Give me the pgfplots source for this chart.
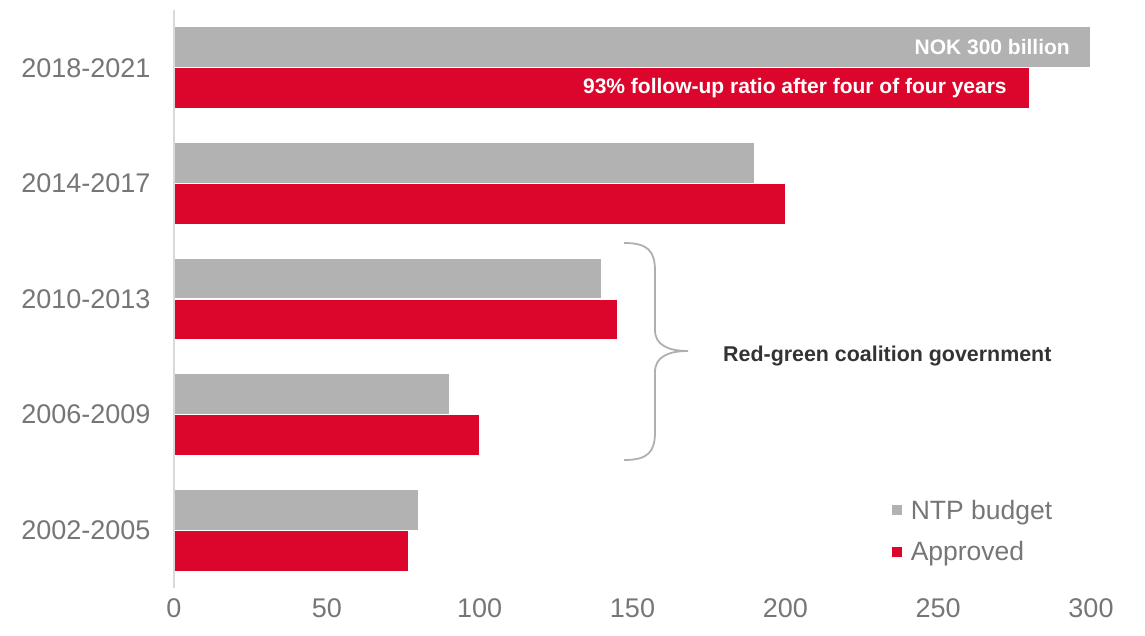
\documentclass[border=0pt]{standalone}
\usepackage{fontspec}
\setmainfont{Liberation Sans}
\usepackage{pgfplots}
\pgfplotsset{compat=1.18}
\definecolor{barGray}{RGB}{178,178,178}
\definecolor{barRed}{RGB}{220,6,44}
\definecolor{txtGray}{RGB}{118,118,118}
\definecolor{darkTxt}{RGB}{51,51,51}
\definecolor{braceGray}{RGB}{175,175,175}
\begin{document}
\begin{tikzpicture}
\useasboundingbox (0,0) rectangle (1145pt,635pt);
\begin{axis}[
  at={(174pt,47pt)}, anchor=south west,
  scale only axis, width=917pt, height=578pt,
  xbar, xmin=0, xmax=300, ymin=-0.5, ymax=4.5,
  bar width=0.355,
  axis line style={draw=none},
  major tick length=0pt,
  xtick={0,50,...,300},
  ytick={0,1,2,3,4},
  yticklabels={2002-2005,2006-2009,2010-2013,2014-2017,2018-2021},
  /pgf/number format/assume math mode=true,
  tick label style={font=\fontsize{27}{31}\selectfont, text=txtGray},
  yticklabel style={xshift=-20pt},
  xticklabel style={yshift=-7pt},
  legend style={at={(0.7825,0.156)}, anchor=north west, draw=none, fill=none,
    font=\fontsize{26.5}{30}\selectfont, text=txtGray, row sep=17pt, column sep=7pt,
    inner sep=0pt, cells={anchor=west}},
  legend image code/.code={\fill[#1,draw=none] (0pt,-5pt) rectangle (10pt,5pt);},
  clip=false,
]
\addplot[fill=barGray, draw=white, line width=1.2pt, bar shift=0.177] coordinates {
  (80,0) (90,1) (140,2) (190,3) (300,4)};
\addplot[fill=barRed, draw=white, line width=1.2pt, bar shift=-0.177] coordinates {
  (76.6,0) (100,1) (145,2) (200,3) (280,4)};
\legend{NTP budget, Approved}
\draw[gray!30, line width=1.5pt] (axis cs:0,-0.5) -- (axis cs:0,4.5);
\node[anchor=east, text=white, font=\bfseries\fontsize{21}{24}\selectfont, inner sep=0pt]
  at ([xshift=-21pt]axis cs:300,4.177) {NOK 300 billion};
\node[anchor=east, text=white, font=\bfseries\fontsize{21}{24}\selectfont, inner sep=0pt]
  at ([xshift=-23pt]axis cs:280,3.823) {93\% follow-up ratio after four of four years};
\end{axis}
\draw[braceGray, line width=1.8pt]
  (624pt,392pt) .. controls (648pt,392pt) and (655pt,384pt) .. (655pt,364pt)
  -- (655pt,305pt) .. controls (655pt,290pt) and (668pt,284pt) .. (688pt,284pt)
  .. controls (668pt,284pt) and (655pt,278pt) .. (655pt,263pt)
  -- (655pt,203pt) .. controls (655pt,183pt) and (648pt,175pt) .. (624pt,175pt);
\node[anchor=west, text=darkTxt, font=\bfseries\fontsize{21.4}{24}\selectfont, inner sep=0pt]
  at (723pt,279pt) {Red-green coalition government};
\end{tikzpicture}
\end{document}
